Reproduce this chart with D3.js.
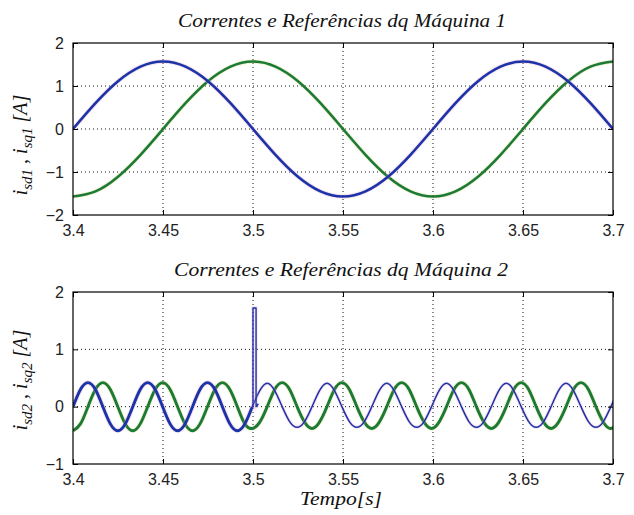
<!DOCTYPE html>
<html>
<head>
<meta charset="utf-8">
<script src="https://cdn.jsdelivr.net/npm/d3@7"></script>
<style>
body{margin:0;background:#fff;}
svg{display:block;}
.tick text{font-family:Arial,"Liberation Sans",sans-serif;font-size:16px;fill:#222;}
</style>
</head>
<body>
<svg id="chart" width="634" height="515"></svg>
<script>
(function(){

// ---- data ----
var xTicks = [3.4, 3.45, 3.5, 3.55, 3.6, 3.65, 3.7];
var xTickLabels = ["3.4", "3.45", "3.5", "3.55", "3.6", "3.65", "3.7"];
var yTicks1 = [-2, -1, 0, 1, 2];
var yTicks2 = [-1, 0, 1, 2];

// machine 1: samples every 0.0125 s from 3.4
var t1Start = 3.4, t1Step = 0.0125;
var isd1 = [0, .60, 1.11, 1.45, 1.57, 1.45, 1.11, .60, 0, -.60, -1.11, -1.45, -1.57, -1.45, -1.11, -.60,
	0, .60, 1.11, 1.45, 1.57, 1.45, 1.11, .60, 0];
var isq1 = [-1.57, -1.45, -1.11, -.60, 0, .60, 1.11, 1.45, 1.57, 1.45, 1.11, .60, 0, -.60, -1.11, -1.45,
	-1.57, -1.45, -1.11, -.60, 0, .60, 1.11, 1.45, 1.57];

// machine 2: samples every 0.00415 s from 3.4
var t2Start = 3.4, t2Step = 0.00415;
var isd2 = [0, .3, .42, .3, 0, -.3, -.42, -.3,
	0, .3, .42, .3, 0, -.3, -.42, -.3,
	0, .3, .42, .3, 0, -.3, -.42, -.3,
	0, .28, .41, .28, 0, -.26, -.36, -.26,
	0, .28, .41, .28, 0, -.26, -.36, -.26,
	0, .28, .41, .28, 0, -.26, -.36, -.26,
	0, .28, .41, .28, 0, -.26, -.36, -.26,
	0, .28, .41, .28, 0, -.26, -.36, -.26,
	0, .28, .41, .28, 0, -.26, -.36, -.26,
	0, .28];
var isq2 = [-.42, -.3, 0, .3, .42, .3, 0, -.3,
	-.42, -.3, 0, .3, .42, .3, 0, -.3,
	-.42, -.3, 0, .3, .42, .3, 0, -.3,
	-.38, -.27, 0, .3, .42, .3, 0, -.27,
	-.38, -.27, 0, .3, .42, .3, 0, -.27,
	-.38, -.27, 0, .3, .42, .3, 0, -.27,
	-.38, -.27, 0, .3, .42, .3, 0, -.27,
	-.38, -.27, 0, .3, .42, .3, 0, -.27,
	-.38, -.27, 0, .3, .42, .3, 0, -.27,
	-.38, -.27];
// short pulse on i_sd2 at 3.5 s
var spikeT = [3.4995, 3.5, 3.5, 3.5017, 3.5017, 3.503];
var spikeV = [0, 0, 1.72, 1.72, 0, 0.05];

var svg = d3.select("#chart");
svg.append("rect").attr("width", 634).attr("height", 515).attr("fill", "#fff");

var left = 73, right = 613;
var x = d3.scaleLinear().domain([3.4, 3.7]).range([left, right]);

function toPts(start, step, vals){
	return vals.map(function(v, i){ return [start + i*step, v]; });
}

function panel(id, top, bottom, yDom, yTicks){
	var y = d3.scaleLinear().domain(yDom).range([bottom, top]);
	var g = svg.append("g");

	// grid
	g.append("g").selectAll("line").data(xTicks.slice(1, -1)).join("line")
		.attr("x1", d => x(d)).attr("x2", d => x(d))
		.attr("y1", top).attr("y2", bottom)
		.attr("stroke", "#111").attr("stroke-dasharray", "1,3");
	g.append("g").selectAll("line").data(yTicks.slice(1, -1)).join("line")
		.attr("x1", left).attr("x2", right)
		.attr("y1", d => y(d)).attr("y2", d => y(d))
		.attr("stroke", "#111").attr("stroke-dasharray", "1,3");

	g.append("clipPath").attr("id", id)
		.append("rect").attr("x", left).attr("y", top).attr("width", right-left).attr("height", bottom-top);
	var plot = g.append("g").attr("clip-path", "url(#" + id + ")");

	// axes, ticks pointing inwards like MATLAB
	var xa = d3.axisBottom(x).tickValues(xTicks).tickFormat((d, i) => xTickLabels[i])
		.tickSizeInner(-5).tickSizeOuter(0).tickPadding(10);
	var ya = d3.axisLeft(y).tickValues(yTicks).tickFormat(d3.format("d"))
		.tickSizeInner(-5).tickSizeOuter(0).tickPadding(9);
	g.append("g").attr("transform", "translate(0," + bottom + ")").call(xa);
	g.append("g").attr("transform", "translate(" + left + ",0)").call(ya);
	g.append("g").attr("transform", "translate(0," + top + ")")
		.call(d3.axisTop(x).tickValues(xTicks).tickFormat("").tickSizeInner(-5).tickSizeOuter(0));
	g.append("g").attr("transform", "translate(" + right + ",0)")
		.call(d3.axisRight(y).tickValues(yTicks).tickFormat("").tickSizeInner(-5).tickSizeOuter(0));
	g.selectAll(".domain").remove();
	g.selectAll(".tick line").attr("stroke", "#000");
	g.append("rect").attr("x", left).attr("y", top).attr("width", right-left).attr("height", bottom-top)
		.attr("fill", "none").attr("stroke", "#000").attr("stroke-width", 1.2);

	return {y: y, plot: plot};
}

function drawLine(p, pts, color, halo, w, curve){
	var line = d3.line().x(d => x(d[0])).y(d => p.y(d[1])).curve(curve || d3.curveNatural);
	p.plot.append("path").attr("d", line(pts)).attr("fill", "none")
		.attr("stroke", halo).attr("stroke-opacity", 0.3).attr("stroke-width", w + 2);
	p.plot.append("path").attr("d", line(pts)).attr("fill", "none")
		.attr("stroke", color).attr("stroke-width", w).attr("stroke-linejoin", "round");
}

var blue = "#1a33a8", green = "#1d7a35";
var pinkHalo = "#e7a0c8", yellowHalo = "#d9d98a";

// ---- Machine 1 ----
var p1 = panel("c1", 43, 215, [-2, 2], yTicks1);
drawLine(p1, toPts(t1Start, t1Step, isq1), green, yellowHalo, 2.6);
drawLine(p1, toPts(t1Start, t1Step, isd1), blue, pinkHalo, 2.6);

// ---- Machine 2 ----
var p2 = panel("c2", 292, 464, [-1, 2], yTicks2);
var sd2 = toPts(t2Start, t2Step, isd2);
var sq2 = toPts(t2Start, t2Step, isq2);
drawLine(p2, sq2, green, yellowHalo, 2.9);
drawLine(p2, sd2.slice(0, 25), blue, pinkHalo, 2.9);
drawLine(p2, sd2.slice(24), blue, pinkHalo, 1.5);
drawLine(p2, spikeT.map((t, i) => [t, spikeV[i]]), blue, pinkHalo, 1.4, d3.curveLinear);

// ---- text ----
var serif = "'Liberation Serif','Times New Roman',serif";
function title(txt, cx, by, len){
	svg.append("text").attr("x", cx).attr("y", by).attr("text-anchor", "middle")
		.attr("font-family", serif).attr("font-style", "italic").attr("font-size", 18)
		.attr("fill", "#111").attr("textLength", len).attr("lengthAdjust", "spacingAndGlyphs")
		.text(txt);
}
title("Correntes e Referências dq Máquina 1", 342, 27, 328);
title("Correntes  e Referências dq Máquina 2", 341, 276, 334);
title("Tempo[s]", 341, 505, 82);

function ylabel(cx, cy, n){
	var t = svg.append("text").attr("transform", "translate(" + cx + "," + cy + ") rotate(-90)")
		.attr("text-anchor", "middle").attr("font-family", serif).attr("font-style", "italic")
		.attr("font-size", 20).attr("fill", "#111");
	t.append("tspan").text("i");
	t.append("tspan").attr("dy", 5).attr("font-size", 15).text("sd" + n);
	t.append("tspan").attr("dy", -5).text(" ,  ");
	t.append("tspan").text("i");
	t.append("tspan").attr("dy", 5).attr("font-size", 15).text("sq" + n);
	t.append("tspan").attr("dy", -5).text("  [A]");
}
ylabel(27, 145, 1);
ylabel(27, 380, 2);

})()
</script>
</body>
</html>
